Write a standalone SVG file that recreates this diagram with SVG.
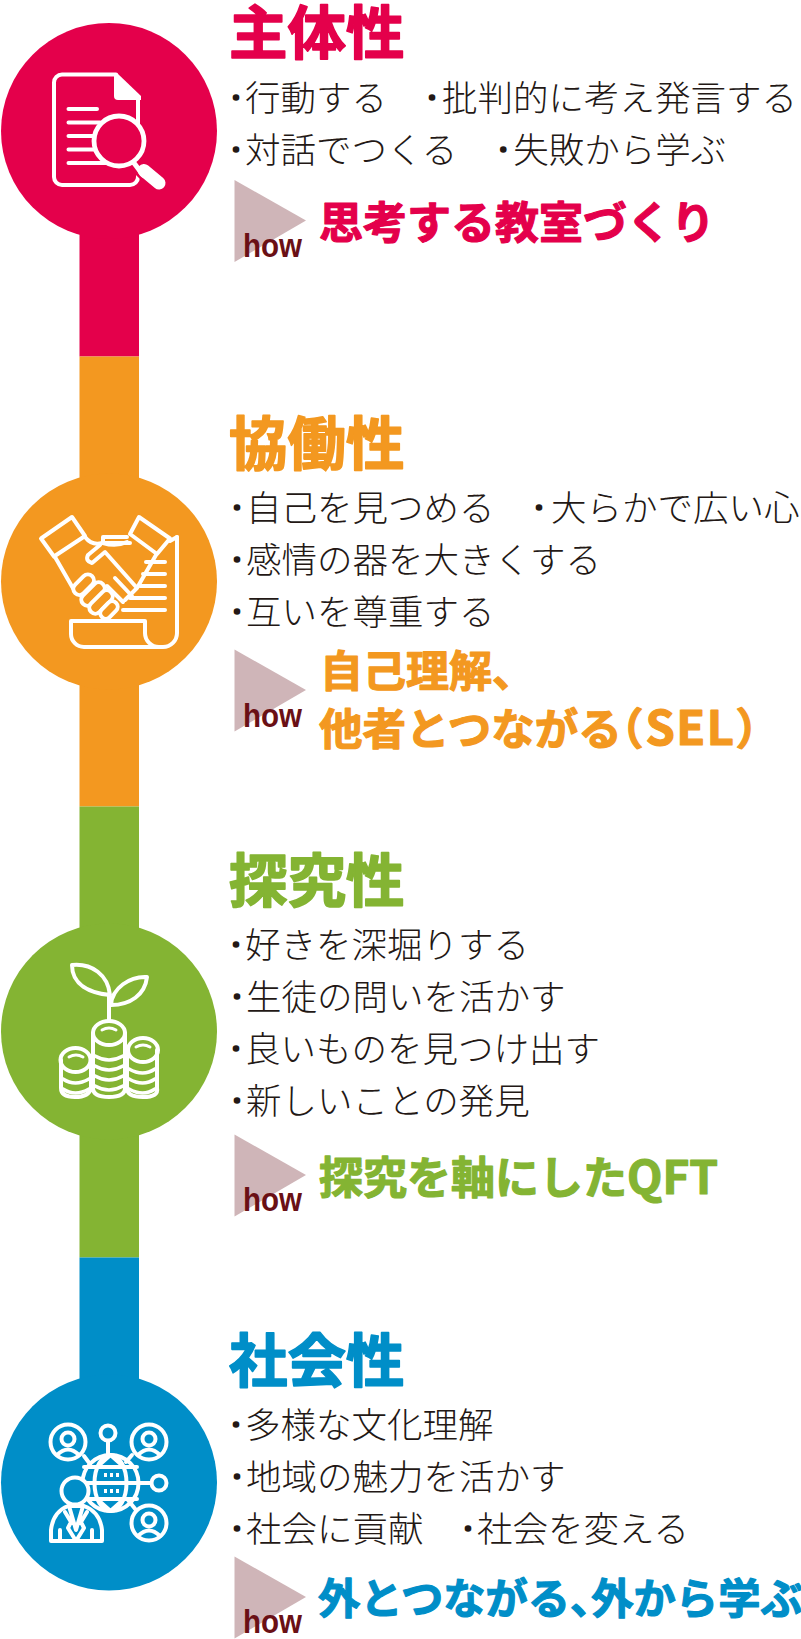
<svg xmlns="http://www.w3.org/2000/svg" width="801" height="1639" viewBox="0 0 801 1639">
<style>
text{font-family:"Noto Sans CJK JP","Noto Sans",sans-serif}
.t{font-size:58.5px;font-weight:700;stroke-width:1.6px;stroke-linejoin:round}
.b{font-size:35.5px;font-weight:300;fill:#231815}
.d{font-size:18px;font-weight:900;stroke:#231815;stroke-width:1.6px}
.c{font-size:44px;font-weight:700;stroke-width:1.2px;stroke-linejoin:round}
.hw{font-feature-settings:"halt"}
.la{font-size:47px;letter-spacing:1.5px}
.h{font-family:"Liberation Sans",Arial,sans-serif;font-size:33px;font-weight:700;fill:#6a1015}
.tri{fill:#cfb5b8}
.ic{fill:none;stroke:#fff;stroke-width:4px;stroke-linecap:round;stroke-linejoin:round}
.red{fill:#e4004b;stroke:#e4004b}.ora{fill:#f39820;stroke:#f39820}.gre{fill:#84b433;stroke:#84b433}.blu{fill:#008ec8;stroke:#008ec8}
.s{stroke:none}
.w{fill:#fff;stroke:none}
</style>
<defs>
<polygon id="arrow" class="tri" points="234.500,180 306,220.500 234.500,262"/>
</defs>
<g id="connectors">
<rect class="red s" x="79.500" y="131" width="59.500" height="225.500"/>
<rect class="ora s" x="79.500" y="356.500" width="59.500" height="450"/>
<rect class="gre s" x="79.500" y="806.500" width="59.500" height="451"/>
<rect class="blu s" x="79.500" y="1257.500" width="59.500" height="225"/>
</g>
<g id="node-shutaisei">
<circle class="red s" cx="109" cy="131" r="108"/>
<g class="ic">
<path d="M116 74.500H62a8 8 0 0 0-8 8V177a8 8 0 0 0 8 8h68a8 8 0 0 0 8-8V99"/>
<path class="w" d="M114 73l3 0 24 23v4H118a4 4 0 0 1-4-4z"/>
<path d="M68.500 109H97M68.500 122.500H100M68.500 136H100M68.500 149.500H100M68.500 163H110"/>
<path d="M135 160l24 24" style="stroke:#e4004b;stroke-width:20px"/>
<circle cx="119" cy="141" r="25" style="fill:#e4004b;stroke-width:4.800px"/>
<path d="M134 163l9 12" style="stroke-width:5px"/>
<path d="M144 170.500l15 12.500" style="stroke-width:13px"/>
</g>
<text class="t red" x="229" y="53.500">主体性</text>
<text class="b" x="227" y="110.500"><tspan class="d" dy="-6.700">・</tspan><tspan dy="6.700">行動する　</tspan><tspan class="d" dx="0.500" dy="-6.700">・</tspan><tspan dx="1" dy="6.700">批判的に考え発言する</tspan></text>
<text class="b" x="227" y="162.500"><tspan class="d" dy="-6.700">・</tspan><tspan dy="6.700">対話でつくる　</tspan><tspan class="d" dx="1.500" dy="-6.700">・</tspan><tspan dx="1" dy="6.700">失敗から学ぶ</tspan></text>
<use href="#arrow"/>
<text class="h" x="243" y="256.500" textLength="59" lengthAdjust="spacingAndGlyphs">how</text>
<text class="c red" x="319" y="239">思考する教室づくり</text>
</g>
<g id="node-kyodosei">
<circle class="ora s" cx="109" cy="581.500" r="108"/>
<g class="ic">
<path d="M41 538.500L72 517 85 536 54 556.500z"/>
<path d="M139 517L170 538.500 157 554 130 534z"/>
<path d="M55 557L74 590M85 537Q92 546 102 543H130"/>
<path d="M103 543V537H127M103 543Q116 547 127 542"/>
<path d="M100 545L88 555Q85 561 92 563L105 552 137 588 125 600M156 555L137 588"/>
<path d="M115 578L132 596M107 586L123 602"/>
<g transform="rotate(-45 84 585)"><rect x="72" y="578.500" width="24" height="12" rx="6" style="fill:#f39820"/></g>
<g transform="rotate(-45 93 594)"><rect x="79" y="588" width="28" height="12" rx="6" style="fill:#f39820"/></g>
<g transform="rotate(-45 101 602)"><rect x="87" y="596" width="28" height="12" rx="6" style="fill:#f39820"/></g>
<g transform="rotate(-45 109 610)"><rect x="99" y="604.500" width="20" height="11" rx="5.500" style="fill:#f39820"/></g>
<path d="M177 537V633a14 14 0 0 1-14 14H84a13 13 0 0 1-13-13V621H145V633a14 14 0 0 0 14 14"/>
<path d="M177 537L170 541M146 562H165M143 574H165M140 586H165M130 598H165M123 610H165"/>
</g>
<text class="t ora" x="229" y="464.500">協働性</text>
<text class="b" x="228" y="520.500"><tspan class="d" dy="-6.700">・</tspan><tspan dy="6.700">自己を見つめる　</tspan><tspan class="d" dy="-6.700">・</tspan><tspan dx="3" dy="6.700">大らかで広い心</tspan></text>
<text class="b" x="228" y="572.500"><tspan class="d" dy="-6.700">・</tspan><tspan dy="6.700">感情の器を大きくする</tspan></text>
<text class="b" x="228" y="624.500"><tspan class="d" dy="-6.700">・</tspan><tspan dy="6.700">互いを尊重する</tspan></text>
<use href="#arrow" y="469.500"/>
<text class="h" x="243" y="726.500" textLength="59" lengthAdjust="spacingAndGlyphs">how</text>
<text class="c ora" x="320" y="687" style="font-size:43px">自己理解、</text>
<text class="c ora" x="319" y="745" style="font-size:43.500px">他者とつながる<tspan class="hw">（</tspan><tspan class="la" dx="2">SEL</tspan><tspan class="hw">）</tspan></text>
</g>
<g id="node-tankyusei">
<circle class="gre s" cx="109" cy="1031.500" r="108"/>
<g class="ic">
<path d="M72 965C92 963 108 975 110 995 90 993 72 985 72 965Z"/>
<path d="M147 977C130 976 112 988 111 1005 130 1005 145 995 147 977Z"/>
<path d="M109 995V1020"/>
<path d="M61 1060V1088Q61 1097 75 1097T91 1088V1060M93 1033V1088Q93 1097 109 1097T125 1088V1033M127 1050V1088Q127 1097 143 1097T157 1088V1050"/>
<ellipse cx="75.500" cy="1060" rx="15" ry="12"/>
<ellipse cx="109" cy="1033" rx="16" ry="12"/>
<ellipse cx="143" cy="1050" rx="15" ry="12"/>
<path d="M69 1057Q76 1053 83 1057M102 1030Q109 1026 116 1030M136 1047Q143 1043 150 1047" style="stroke-width:3px"/>
<path d="M63 1079Q75 1087 89 1079M63 1089Q75 1097 89 1089M95 1056Q109 1064 123 1056M95 1066Q109 1074 123 1066M95 1076Q109 1084 123 1076M95 1086Q109 1094 123 1086M129 1069Q143 1077 155 1069M129 1079Q143 1087 155 1079M129 1089Q143 1097 155 1089" style="stroke-width:3.600px"/>
</g>
<text class="t gre" x="229" y="901.500">探究性</text>
<text class="b" x="227" y="957.500"><tspan class="d" dy="-6.700">・</tspan><tspan dy="6.700">好きを深堀りする</tspan></text>
<text class="b" x="228" y="1009.500"><tspan class="d" dy="-6.700">・</tspan><tspan dy="6.700">生徒の問いを活かす</tspan></text>
<text class="b" x="227" y="1061.500"><tspan class="d" dy="-6.700">・</tspan><tspan dy="6.700">良いものを見つけ出す</tspan></text>
<text class="b" x="228" y="1113.500"><tspan class="d" dy="-6.700">・</tspan><tspan dy="6.700">新しいことの発見</tspan></text>
<use href="#arrow" y="954.500"/>
<text class="h" x="243" y="1211" textLength="59" lengthAdjust="spacingAndGlyphs">how</text>
<text class="c gre" x="319" y="1194">探究を軸にした<tspan style="font-size:46px">QFT</tspan></text>
</g>
<g id="node-shakaisei">
<circle class="blu s" cx="109" cy="1482.500" r="108"/>
<g class="ic">
<path d="M84 1456L90 1464M108 1441V1455M132 1455L126 1462M131 1483H151M128 1500L136 1510"/>
<circle cx="68" cy="1442" r="17.500"/><circle cx="149" cy="1442" r="17.500"/><circle cx="149" cy="1523" r="17.500"/>
<circle cx="68" cy="1439" r="6.500"/><circle cx="149" cy="1439" r="6.500"/><circle cx="149" cy="1520" r="6.500"/>
<path d="M57 1455Q68 1444 79 1455M138 1455Q149 1444 160 1455M138 1536Q149 1525 160 1536"/>
<circle cx="108" cy="1433" r="7.500"/><circle cx="159" cy="1483" r="7.500"/>
<circle cx="110.500" cy="1483" r="28"/>
<ellipse cx="110.500" cy="1483" rx="16" ry="28"/>
<path d="M84 1467H137M82 1483H139M84 1499H137M110.500 1455L97 1467M110.500 1455L124 1467M110.500 1511L97 1499M110.500 1511L124 1499"/>
<path d="M104 1475h3M110 1475h3M116 1475h3M104 1491h3M110 1491h3M116 1491h3" style="stroke-width:4px;stroke-linecap:butt"/>
<circle cx="75" cy="1491" r="13.500" style="fill:#008ec8"/>
<path d="M51 1541V1530Q53 1512 68 1506H84Q100 1512 102 1530V1541Z" style="fill:#008ec8"/>
<path d="M69 1506L76 1530 83 1506M65 1512L71 1522 68 1528 76 1541 84 1528 81 1522 87 1512M60 1541V1530M92 1541V1530"/>
</g>
<text class="t blu" x="229" y="1381.500">社会性</text>
<text class="b" x="227" y="1437.500"><tspan class="d" dy="-6.700">・</tspan><tspan dy="6.700">多様な文化理解</tspan></text>
<text class="b" x="228" y="1489.500"><tspan class="d" dy="-6.700">・</tspan><tspan dy="6.700">地域の魅力を活かす</tspan></text>
<text class="b" x="228" y="1541.500"><tspan class="d" dy="-6.700">・</tspan><tspan dy="6.700">社会に貢献　</tspan><tspan class="d" dy="-6.700">・</tspan><tspan dy="6.700">社会を変える</tspan></text>
<use href="#arrow" y="1376.500"/>
<text class="h" x="243" y="1633" textLength="59" lengthAdjust="spacingAndGlyphs">how</text>
<text class="c blu" x="318" y="1614" style="font-size:42.300px">外とつながる<tspan class="hw">、</tspan>外から学ぶ</text>
</g>
</svg>
